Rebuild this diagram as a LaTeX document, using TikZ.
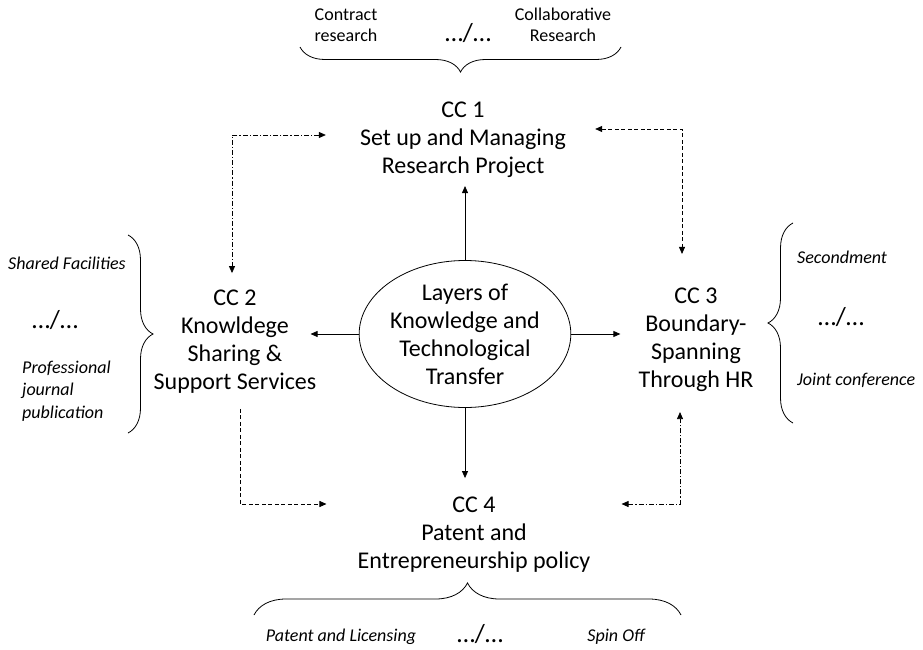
\documentclass[tikz,border=0pt]{standalone}
\usepackage{fontspec}
\setmainfont{Carlito}
\usetikzlibrary{arrows.meta, positioning, calc, shapes.geometric, decorations.pathreplacing}

\begin{document}
\begin{tikzpicture}[x=1pt, y=1pt,
  >={Triangle[length=7pt, width=6pt]},
  ccbox/.style={align=center, inner sep=0pt, font=\fontsize{24}{28}\selectfont},
  toptext/.style={align=center, inner sep=0pt, font=\fontsize{18}{21}\selectfont},
  sidetext/.style={align=left, inner sep=0pt, font=\fontsize{18}{22.5}\selectfont\itshape},
  etcetera/.style={inner sep=0pt, font=\fontsize{26}{30}\selectfont},
  link/.style={line width=0.8pt},
  dashlink/.style={link, dash pattern=on 4pt off 2.5pt},
  dotlink/.style={link, dash pattern=on 5pt off 2pt on 1.2pt off 2pt},
  bracebar/.style={line width=0.8pt, decorate, decoration={brace, amplitude=#1}}
]
  \useasboundingbox (0,0) rectangle (923,-650);

  % The core
  \node[draw, ellipse, line width=0.8pt, minimum width=208pt, minimum height=147pt, inner sep=0pt, align=center, font=\fontsize{24}{28}\selectfont] (layers) at (465,-334) {Layers of\\Knowledge and\\Technological\\Transfer};

  % The four CC
  \node[ccbox] (cc1) at (463,-140) {CC 1\\Set up and Managing\\Research Project};
  \node[ccbox] (cc2) at (235,-342) {CC 2\\Knowldege\\Sharing \&\\Support Services};
  \node[ccbox] (cc3) at (696,-340) {CC 3\\Boundary-\\Spanning\\Through HR};
  \node[ccbox] (cc4) at (474,-535) {CC 4\\Patent and\\Entrepreneurship policy};

  % Solid links from the core
  \draw[link, ->, shorten >=8pt] (layers.north) -- (layers.north |- cc1.south);
  \draw[link, ->, shorten >=-6pt] (layers.west) -- (layers.west -| cc2.east);
  \draw[link, ->, shorten >=18pt] (layers.east) -- (layers.east -| cc3.west);
  \draw[link, ->, shorten >=19pt] (layers.south) -- (layers.south |- cc4.north);

  % Links between the CC
  \draw[dotlink, <->, shorten <=34pt, shorten >=17pt] ([yshift=5pt]cc1.west) -| ([xshift=-3pt]cc2.north);
  \draw[dashlink, <->, shorten <=29pt, shorten >=34pt] ([yshift=11pt]cc1.east) -| ([xshift=-14pt]cc3.north);
  \draw[dashlink, ->, shorten <=15pt, shorten >=31pt] ([xshift=5pt]cc2.south) |- ([yshift=31pt]cc4.west);
  \draw[dotlink, <->, shorten <=31pt, shorten >=20pt] ([yshift=31pt]cc4.east) -| ([xshift=-16pt]cc3.south);

  % Braces
  \draw[bracebar=25pt] (621,-47) -- (300,-47);
  \draw[bracebar=25pt] (128,-235) -- (128,-433);
  \draw[bracebar=25pt] (793,-423) -- (793,-223);
  \draw[bracebar=32pt] (254,-615) -- (681,-615);

  % Top
  \node[toptext] (contract) at (346,-25) {Contract\\research};
  \node[etcetera] (topetc) at (468,-33) {…/…};
  \node[toptext] (collab) at (563,-25) {Collaborative\\Research};

  % Left
  \node[sidetext] (shared) at (67,-263) {Shared Facilities};
  \node[etcetera] (leftetc) at (55,-320) {…/…};
  \node[sidetext, anchor=west] (journal) at (22,-391) {Professional\\journal\\publication};

  % Right
  \node[sidetext, anchor=west] (second) at (797,-257) {Secondment};
  \node[etcetera] (rightetc) at (841,-317) {…/…};
  \node[sidetext, anchor=west] (joint) at (797,-380) {Joint conference};

  % Bottom
  \node[sidetext] (patent) at (341,-637) {Patent and Licensing};
  \node[etcetera] (bottometc) at (480,-634) {…/…};
  \node[sidetext] (spinoff) at (616,-637) {Spin Off};
\end{tikzpicture}
\end{document}
